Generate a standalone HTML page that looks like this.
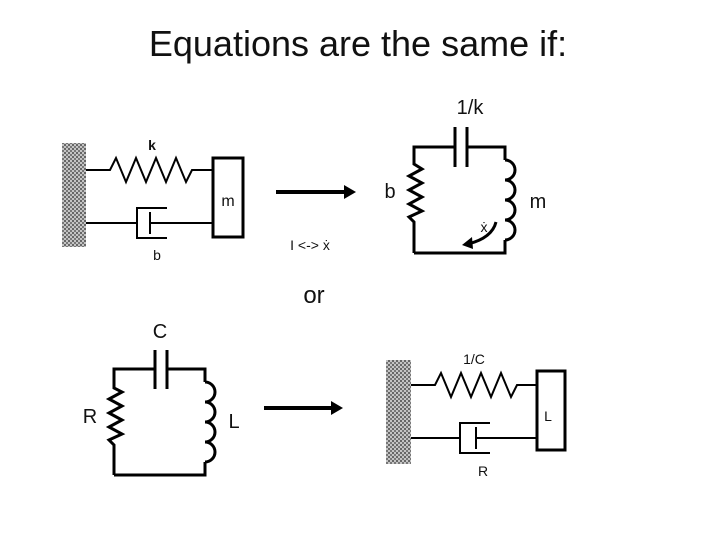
<!DOCTYPE html>
<html><head><style>body{margin:0;background:#fff}svg{display:block}</style></head><body>
<svg width="720" height="540" viewBox="0 0 720 540" xmlns="http://www.w3.org/2000/svg" font-family="Liberation Sans, sans-serif">
<defs>
<pattern id="chk" width="4" height="4" patternUnits="userSpaceOnUse"><rect width="4" height="4" fill="#c4c4c4"/><rect width="2" height="2" fill="#666"/><rect x="2" y="2" width="2" height="2" fill="#777"/></pattern>
</defs>
<text x="358" y="56" font-size="36" text-anchor="middle" fill="#111">Equations are the same if:</text>
<g stroke="#000" fill="none" stroke-width="2">
<rect x="62" y="143" width="24" height="104" fill="url(#chk)" stroke="none"/>
<polyline points="86,170 110,170 116,158 126,182 136,158 146,182 156,158 166,182 176,158 186,182 192,170 212,170"/>
<rect x="213" y="158" width="30" height="79" stroke-width="3"/>
<line x1="86" y1="223" x2="137" y2="223"/><line x1="150" y1="223" x2="212" y2="223"/>
<polyline points="167,208 137,208 137,238 167,238"/>
<line x1="150" y1="212" x2="150" y2="234"/>
<line x1="276" y1="192" x2="346" y2="192" stroke-width="4"/>
<line x1="264" y1="408" x2="333" y2="408" stroke-width="4"/>
<polyline points="414,253 414,222 409,217 422,211 409,204 422,197 409,190 422,183 409,176 422,169 414,164 414,147 455,147" stroke-width="3"/>
<line x1="455" y1="127" x2="455" y2="167" stroke-width="3"/><line x1="467" y1="127" x2="467" y2="167" stroke-width="3"/>
<polyline points="467,147 505,147 505,160" stroke-width="3"/>
<path d="M505,160 a10,10 0 0 1 0,20 a10,10 0 0 1 0,20 a10,10 0 0 1 0,20 a10,10 0 0 1 0,20" stroke-width="3"/>
<polyline points="505,240 505,253 414,253" stroke-width="3"/>
<path d="M496,222 Q492,238 468,244" stroke-width="3"/>
<polyline points="114,475 114,445 109,440 122,434 109,427 122,420 109,413 122,406 109,399 122,392 114,388 114,369 155,369" stroke-width="3"/>
<line x1="155" y1="350" x2="155" y2="389" stroke-width="3"/><line x1="167" y1="350" x2="167" y2="389" stroke-width="3"/>
<polyline points="167,369 205,369 205,382" stroke-width="3"/>
<path d="M205,382 a10,10 0 0 1 0,20 a10,10 0 0 1 0,20 a10,10 0 0 1 0,20 a10,10 0 0 1 0,20" stroke-width="3"/>
<polyline points="205,462 205,475 114,475" stroke-width="3"/>
<rect x="386" y="360" width="25" height="104" fill="url(#chk)" stroke="none"/>
<polyline points="411,385 435,385 441,373 451,397 461,373 471,397 481,373 491,397 501,373 511,397 517,385 537,385"/>
<rect x="537" y="371" width="28" height="79" stroke-width="3"/>
<line x1="411" y1="438" x2="460" y2="438"/><line x1="476" y1="438" x2="537" y2="438"/>
<polyline points="490,423 460,423 460,453 490,453"/>
<line x1="476" y1="427" x2="476" y2="449"/>
</g>
<polygon points="344,185 356,192 344,199" fill="#000"/>
<polygon points="331,401 343,408 331,415" fill="#000"/>
<polygon points="462,245 472,237 473,249" fill="#000"/>
<g font-size="14" fill="#111" text-anchor="middle">
<text x="152" y="150" font-weight="bold">k</text>
<text x="157" y="260">b</text>
<text x="228" y="206" font-size="16">m</text>
<text x="310" y="250">I &lt;-&gt; ẋ</text>
<text x="484" y="232">ẋ</text>
<text x="483" y="476">R</text>
<text x="548" y="421">L</text>
<text x="474" y="364">1/C</text>
</g>
<g font-size="20" fill="#111" text-anchor="middle">
<text x="470" y="114">1/k</text>
<text x="390" y="198">b</text>
<text x="538" y="208">m</text>
<text x="314" y="303" font-size="24">or</text>
<text x="160" y="338">C</text>
<text x="90" y="423">R</text>
<text x="234" y="428">L</text>
</g>
</svg>
</body></html>
